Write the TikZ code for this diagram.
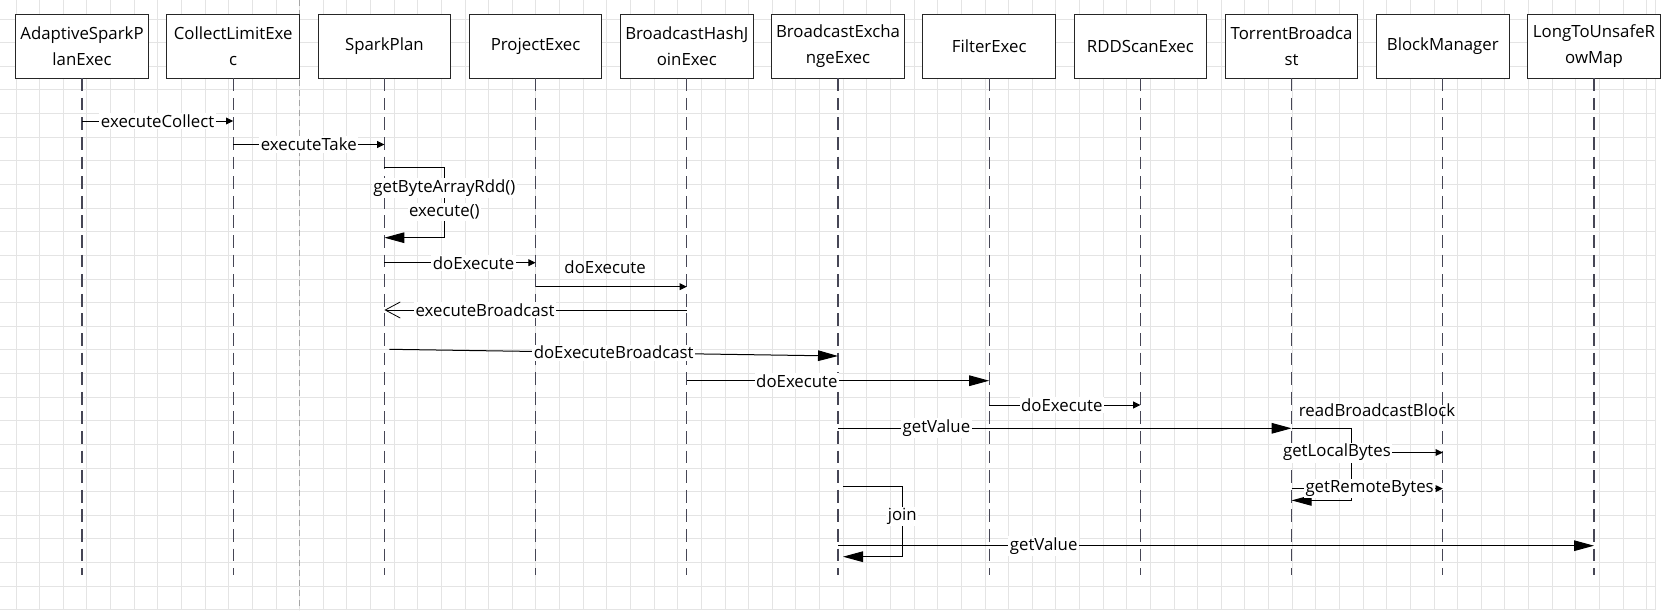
\documentclass[tikz,border=0pt]{standalone}
\usepackage{fontspec}
\setmainfont{Open Sans}
\usetikzlibrary{positioning}
\usetikzlibrary{arrows.meta}
\definecolor{lifecol}{RGB}{70,70,85}
\definecolor{gridcol}{RGB}{228,228,228}

\begin{document}
\begin{tikzpicture}[x=0.5pt, y=-0.5pt,
    font=\fontsize{8.4}{13}\selectfont,
    head/.style={draw=black!85, line width=0.5pt, minimum width=66.25pt, minimum height=32pt,
      align=center, inner sep=0pt, outer sep=0pt, fill=white},
    life/.style={draw=lifecol, line width=0.65pt, dash pattern=on 6.35pt off 3.45pt},
    gridline/.style={draw=gridcol, line width=0.45pt},
    call/.style={-{Triangle[length=3.6pt,width=3.4pt]}, line width=0.5pt},
    bigcall/.style={-{Triangle[length=10pt,width=5.3pt]}, line width=0.5pt},
    reply/.style={-{Straight Barb[length=7.5pt,width=8pt,line width=0.4pt]}, line width=0.5pt},
    lbl/.style={fill=white, inner sep=0.8pt},
  ]
    \useasboundingbox (0,0) rectangle (1679,610);
    \foreach \gx in {0,...,69}
      \draw[gridline] ({16+23.633*\gx},0) -- ({16+23.633*\gx},610);
    \draw[gridline] (1655,0) -- (1655,610);
    \foreach \gy in {0,...,25}
      \draw[gridline] (0,{19+23.633*\gy}) -- (1655,{19+23.633*\gy});
    \draw[draw=black!35, line width=0.45pt, dash pattern=on 3pt off 2pt] (299.8,0) -- (299.8,610);

    \node[head] (adaptive) at (82,46.2) {AdaptiveSparkP\\lanExec};
    \node[head, right=9.35pt of adaptive] (collect) {CollectLimitExe\\c};
    \node[head, right=9.35pt of collect] (sparkplan) {SparkPlan};
    \node[head, right=9.35pt of sparkplan] (project) {ProjectExec};
    \node[head, right=9.35pt of project] (bhj) {BroadcastHashJ\\oinExec};
    \node[head, right=9.35pt of bhj] (bcx) {BroadcastExcha\\ngeExec};
    \node[head, right=9.35pt of bcx] (filter) {FilterExec};
    \node[head, right=9.35pt of filter] (rddscan) {RDDScanExec};
    \node[head, right=9.35pt of rddscan] (torrent) {TorrentBroadca\\st};
    \node[head, right=9.35pt of torrent] (blockmgr) {BlockManager};
    \node[head, right=9.35pt of blockmgr] (longmap) {LongToUnsafeR\\owMap};

    \foreach \h in {adaptive,collect,sparkplan,project,bhj,bcx,filter,rddscan,torrent,blockmgr,longmap}
      \draw[life] (\h.south) -- (\h.south |- 0,575);

    \draw[call] (adaptive |- 0,121) -- node[lbl] {executeCollect} (collect |- 0,121);
    \draw[call] (collect |- 0,144.5) -- node[lbl] {executeTake} (sparkplan |- 0,144.5);
    \draw[bigcall] (sparkplan |- 0,167.7) -- ++(60,0) -- ++(0,70)
      node[lbl, pos=0.29] {getByteArrayRdd()} node[lbl, pos=0.63] {execute()} -- ++(-60,0);
    \draw[call] (sparkplan |- 0,262.7) -- node[lbl, pos=0.59] {doExecute} (project |- 0,262.7);
    \draw[call] (project |- 0,286.7) -- node[pos=0.46, yshift=9.7pt] {doExecute} (bhj |- 0,286.7);
    \draw[reply] (bhj |- 0,310) -- node[lbl, pos=0.667] {executeBroadcast} (sparkplan |- 0,310);
    \draw[bigcall] (sparkplan |- 0,349.3) ++(5,0) -- node[lbl, pos=0.5] {doExecuteBroadcast} (bcx |- 0,356);
    \draw[bigcall] (bhj |- 0,380.7) -- node[lbl, pos=0.364] {doExecute} (filter |- 0,380.7);
    \draw[call] (filter |- 0,405) -- node[lbl, pos=0.48] {doExecute} (rddscan |- 0,405);
    \draw[bigcall] (bcx |- 0,428.3) -- node[lbl, pos=0.217] {getValue} (torrent |- 0,428.3);
    \draw[bigcall] (torrent |- 0,428.3) -- ++(60,0) -- ++(0,72.1) -- ++(-60,0);
    \node (readblock) at (1377,409.7) {readBroadcastBlock};
    \draw[call] (torrent |- 0,452.5) -- node[lbl, pos=0.3] {getLocalBytes} (blockmgr |- 0,452.5);
    \draw[call] (torrent |- 0,488.6) -- node[lbl, pos=0.516] {getRemoteBytes} (blockmgr |- 0,488.6);
    \draw[bigcall] (bcx |- 0,486) ++(5,0) -- ++(59.3,0) -- ++(0,70.7)
      node[lbl, pos=0.434] {join} -- ++(-59.3,0);
    \draw[bigcall] (bcx |- 0,545.7) -- node[lbl, pos=0.272] {getValue} (longmap |- 0,545.7);
\end{tikzpicture}
\end{document}
